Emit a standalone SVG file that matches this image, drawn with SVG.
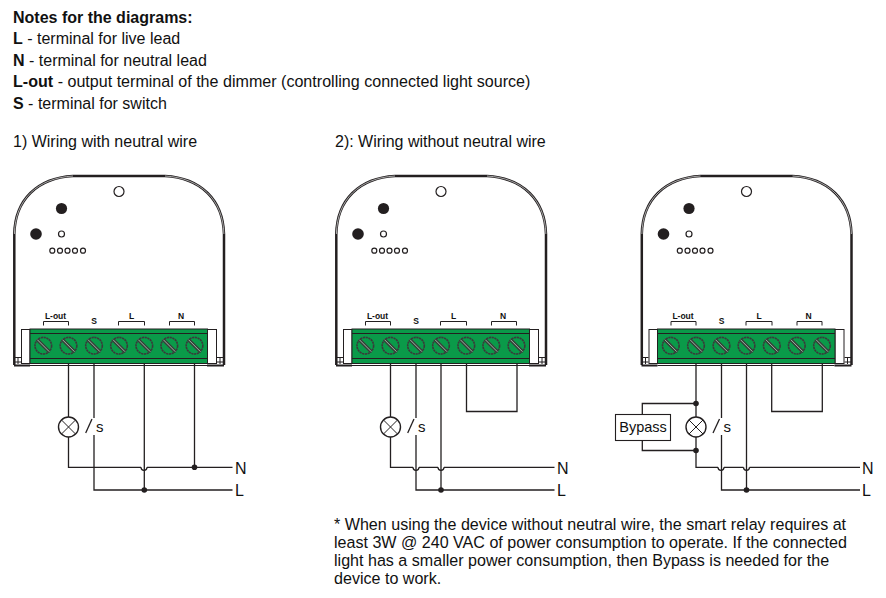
<svg xmlns="http://www.w3.org/2000/svg" xmlns:xlink="http://www.w3.org/1999/xlink" width="886" height="598" viewBox="0 0 886 598">
<style>
text{font-family:"Liberation Sans",Arial,sans-serif;fill:#111}
.t{font-size:16px}
.f{font-size:16.08px}
.b{font-weight:bold}
.lab{font-size:8.5px;font-weight:bold;text-anchor:middle}
.sw{font-size:15px}
.w{fill:none;stroke:#231f20;stroke-width:1.3}
.th{fill:none;stroke:#231f20;stroke-width:1}
.o{fill:#fff;stroke:#231f20;stroke-width:1.2}
.d{fill:#231f20}
.sc{fill:none;stroke:#3a3a3a;stroke-width:1.6;stroke-dasharray:2.2 .6}
.sl{stroke:#3a3a3a;stroke-width:3.4;fill:none}
.sl2{stroke:#9fcfae;stroke-width:.9;fill:none}
</style>
<defs>
<g id="screw"><circle r="8.300" class="sc"/><path class="sl" d="M-6-6L6 6"/><path class="sl2" d="M-6-6L6 6"/></g>
<g id="device">
<path d="M14.300 365V234C15 200 37 178 73 176H165C201 178 223 200 224 234V365" fill="#fff" stroke="#231f20" stroke-width="2.500"/>
<path d="M14.400 234C15 200 37 178 73 176M165 176C201 178 223 200 223.900 234" fill="none" stroke="#ccc" stroke-width=".8"/>
<path d="M14 365.500H30M207 365.500H224" fill="none" stroke="#231f20" stroke-width="2.200"/>
<path d="M30 365.500H207" fill="none" stroke="#231f20" stroke-width="1.100"/>
<circle cx="119" cy="191.500" r="5" class="o"/>
<circle cx="61.500" cy="208.500" r="5.600" class="d"/>
<circle cx="36" cy="234" r="5.800" class="d"/>
<circle cx="61.500" cy="234" r="3" class="o"/>
<circle cx="52.300" cy="250.700" r="2.500" class="o"/>
<circle cx="60" cy="250.700" r="2.500" class="o"/>
<circle cx="67.500" cy="250.700" r="2.500" class="o"/>
<circle cx="75" cy="250.700" r="2.500" class="o"/>
<circle cx="83" cy="250.700" r="2.500" class="o"/>
<text class="lab" x="55.500" y="319">L-out</text>
<text class="lab" x="94" y="324">S</text>
<text class="lab" x="131.500" y="319">L</text>
<text class="lab" x="181" y="319">N</text>
<path class="th" d="M43.500 325.500V321.500H68.500V325.500M118.500 325.500V321.500H144.500V325.500M169.500 325.500V321.500H194.500V325.500"/>
<path class="th" d="M14 357.500H21M14 362H21M18 357.500V364M217 357.500H224M217 362H224M220 357.500V364"/>
<rect x="21.500" y="329.500" width="8.500" height="34" fill="#fff" stroke="#231f20"/>
<rect x="207.500" y="329.500" width="9" height="34" fill="#fff" stroke="#231f20"/>
<rect x="30" y="329" width="177.500" height="34.500" fill="#0a9a49" stroke="#231f20"/>
<path d="M30 333.500H207.500M30 358.500H207.500" fill="none" stroke="#231f20" stroke-width="1.100"/>
<use xlink:href="#screw" x="43.300" y="345.700"/>
<use xlink:href="#screw" x="68.500" y="345.700"/>
<use xlink:href="#screw" x="94" y="345.700"/>
<use xlink:href="#screw" x="119" y="345.700"/>
<use xlink:href="#screw" x="144.300" y="345.700"/>
<use xlink:href="#screw" x="169.300" y="345.700"/>
<use xlink:href="#screw" x="194.500" y="345.700"/>
</g>
<g id="lamp"><circle r="10" fill="#fff" stroke="#231f20" stroke-width="1.400"/><path class="th" d="M-7-7L7 7M-7 7L7-7"/></g>
</defs>

<g id="notes">
<text class="t b" x="13" y="23">Notes for the diagrams:</text>
<text class="t" x="13" y="44"><tspan class="b">L</tspan> - terminal for live lead</text>
<text class="t" x="13" y="66"><tspan class="b">N</tspan> - terminal for neutral lead</text>
<text class="f" x="13" y="87"><tspan class="b">L-out</tspan> - output terminal of the dimmer (controlling connected light source)</text>
<text class="t" x="13" y="109"><tspan class="b">S</tspan> - terminal for switch</text>
<text class="t" x="13" y="147">1) Wiring with neutral wire</text>
<text class="t" x="335" y="147">2): Wiring without neutral wire</text>
</g>

<g id="device1"><use xlink:href="#device"/></g>
<g id="device2"><use xlink:href="#device" x="322"/></g>
<g id="device3"><use xlink:href="#device" x="627.500"/></g>

<g id="connectors" class="w">
<path d="M68.500 364V417M68.500 437V467.300H141M147 467.300H232.500"/>
<path d="M141 467.300A3 3 0 0 0 147 467.300"/>
<path d="M94 364V418M94 435V490H232.500"/>
<path d="M144.300 364V490"/>
<path d="M194.500 364V467.300"/>
<path d="M85.700 433L92 419"/>
<path d="M390.500 364V417M390.500 437V467.300H413M419 467.300H438M444 467.300H554.500"/>
<path d="M413 467.300A3 3 0 0 0 419 467.300M438 467.300A3 3 0 0 0 444 467.300"/>
<path d="M416 364V418M416 435V490H554.500"/>
<path d="M441 364V490"/>
<path d="M466.500 364V411.500H517V364"/>
<path d="M407.700 433L414 419"/>
<path d="M696 364V417M696 437V467.300H718M724 467.300H743.500M749.500 467.300H860"/>
<path d="M718 467.300A3 3 0 0 0 724 467.300M743.500 467.300A3 3 0 0 0 749.500 467.300"/>
<path d="M721.500 364V418M721.500 435V490H860"/>
<path d="M746.500 364V490"/>
<path d="M771.700 364V411.500H822.300V364"/>
<path d="M713 433L719.500 419"/>
<path d="M696 403.500H642.300V414.500M642.300 440.500V450.500H696"/>
</g>
<g id="junctions">
<circle cx="144.300" cy="490" r="2.800" class="d"/>
<circle cx="194.500" cy="467.300" r="2.800" class="d"/>
<circle cx="441" cy="490" r="2.800" class="d"/>
<circle cx="746.500" cy="490" r="2.800" class="d"/>
<circle cx="696" cy="403.500" r="2.800" class="d"/>
<circle cx="696" cy="450.500" r="2.800" class="d"/>
</g>
<g id="lamp1"><use xlink:href="#lamp" x="68.500" y="427"/></g>
<g id="lamp2"><use xlink:href="#lamp" x="390.500" y="427"/></g>
<g id="lamp3"><use xlink:href="#lamp" x="696" y="427"/></g>
<g id="bypass"><rect x="615.500" y="414.500" width="55" height="26" fill="#fff" stroke="#231f20" stroke-width="1.100"/><text x="643" y="432" font-size="14.500" text-anchor="middle">Bypass</text></g>
<g id="labels">
<text class="sw" x="96" y="432">s</text>
<text class="sw" x="418" y="432">s</text>
<text class="sw" x="723.500" y="432">s</text>
<text class="t" x="235" y="473.500">N</text><text class="t" x="235" y="495.500">L</text>
<text class="t" x="557" y="473.500">N</text><text class="t" x="557" y="495.500">L</text>
<text class="t" x="862" y="473.500">N</text><text class="t" x="862" y="495.500">L</text>
</g>
<g id="footnote">
<text class="f" x="334" y="529.500">* When using the device without neutral wire, the smart relay requires at</text>
<text class="f" x="334" y="548">least 3W @ 240 VAC of power consumption to operate. If the connected</text>
<text class="f" x="334" y="566">light has a smaller power consumption, then Bypass is needed for the</text>
<text class="f" x="334" y="584">device to work.</text>
</g>
</svg>
